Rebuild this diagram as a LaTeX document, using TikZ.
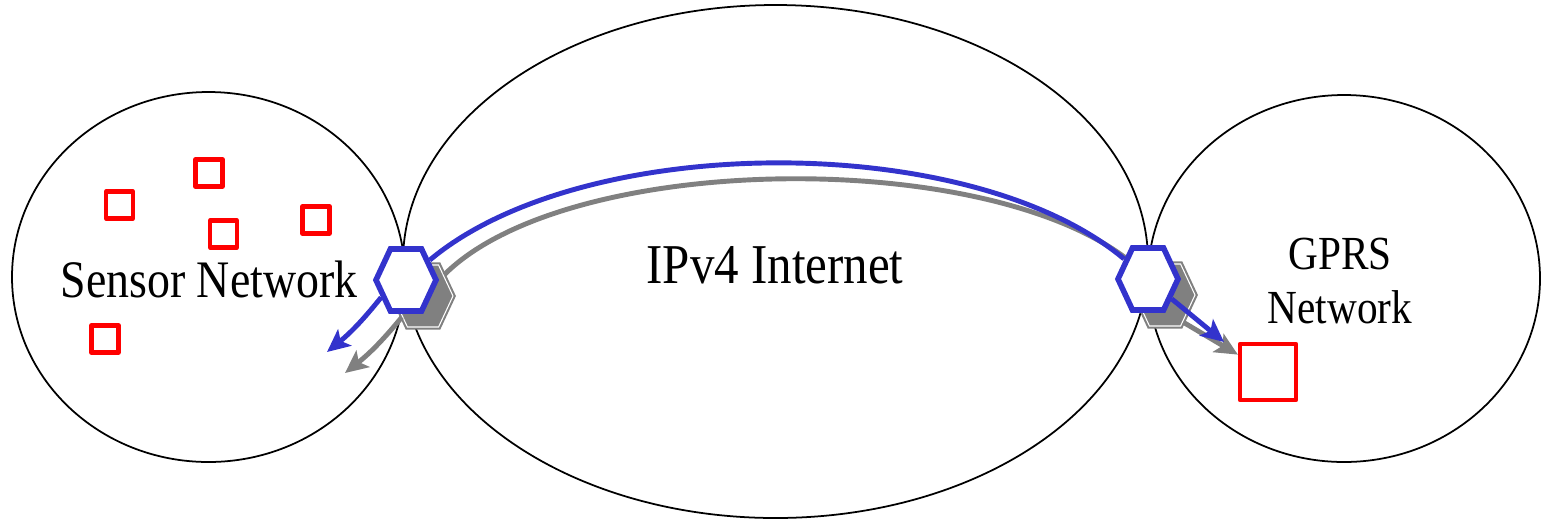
\documentclass[tikz,border=0pt]{standalone}
\usepackage{fontspec}
\newfontfamily\diagfont[FakeStretch=0.87]{Liberation Serif}
\usepackage{tikz}
\usetikzlibrary{arrows.meta,positioning,shapes.geometric,shapes.symbols,calc}
\usepackage{xcolor}
\definecolor{GWblue}{HTML}{3333CC}
\definecolor{GWgray}{HTML}{808080}
\definecolor{GWred}{HTML}{FF0000}

\begin{document}
\begin{tikzpicture}[
    net/.style={draw,ellipse,line width=0.5pt,inner sep=0pt},
    mote/.style={draw=GWred,line width=1.2pt,line join=round,minimum size=0.27cm,inner sep=0pt},
    gateway/.style={signal,signal to=east and west,signal pointer angle=130,draw=GWblue,fill=white,line width=1.6pt,minimum width=0.60cm,minimum height=0.62cm,inner sep=0pt},
    shadowgw/.style={gateway,draw=GWgray,fill=GWgray,double=white,double distance=0.3pt,line width=0.6pt},
    link/.style={line width=1.4pt,GWblue},
    linkgray/.style={link,GWgray},
    msg/.style={link,-{Stealth[length=6.5pt,width=6pt,inset=1.5pt]}},
    msggray/.style={msg,GWgray},
    netlabel/.style={font=\diagfont\fontsize{15}{17}\selectfont,align=center,inner sep=0pt}
  ]
    \useasboundingbox (0,0) rectangle (15.42,-5.22);

    % NETWORKS
    \node[net,minimum width=3.93cm,minimum height=3.70cm] (sensornet) at (2.085,-2.77) {};
    \node[net,minimum width=7.45cm,minimum height=5.13cm] (internet) at (7.755,-2.615) {};
    \node[net,minimum width=3.92cm,minimum height=3.67cm] (gprsnet) at (13.44,-2.785) {};

    % Sensor motes and GPRS node
    \node[mote] (m1) at (1.195,-2.05) {};
    \node[mote] (m2) at (2.09,-1.73) {};
    \node[mote] (m3) at (2.235,-2.34) {};
    \node[mote] (m4) at (3.16,-2.20) {};
    \node[mote] (m5) at (1.05,-3.39) {};
    \node[mote,minimum size=0.56cm] (phone) at (12.68,-3.72) {};

    % Arrow ends
    \coordinate (lbtip) at (3.27,-3.52);
    \coordinate (lgtip) at (3.45,-3.73);
    \coordinate (rbtip) at (12.24,-3.42);

    % GATEWAYS - shadows
    \node[shadowgw] (lshadow) at (4.23,-2.96) {};
    \node[shadowgw] (rshadow) at (11.65,-2.95) {};

    % Arrows - gray
    \draw[linkgray] (lshadow) to[out=45,in=135,looseness=0.66] (rshadow);
    \draw[msggray] (lshadow.225) to[bend left=6] (lgtip);
    \draw[msggray] (rshadow.-56) -- (phone.150);

    % GATEWAYS
    \node[gateway] (lgw) at (4.06,-2.80) {};
    \node[gateway] (rgw) at (11.48,-2.79) {};

    % Arrows - blue
    \draw[link] (lgw) to[out=40,in=140,looseness=0.74] (rgw);
    \draw[msg] (lgw.215) to[bend left=6] (lbtip);
    \draw[msg] (rgw.-40) -- (rbtip);

    % Labels
    \node[netlabel,anchor=base] (sensorlbl) at (2.09,-2.97) {Sensor Network};
    \node[netlabel,anchor=base,font=\diagfont\fontsize{16}{18}\selectfont] (internetlbl) at (7.75,-2.83) {IPv4 Internet};
    \node[netlabel,font=\diagfont\fontsize{13.5}{15.1}\selectfont] (gprslbl) at (13.40,-2.81) {GPRS\\Network};
  \end{tikzpicture}
\end{document}
